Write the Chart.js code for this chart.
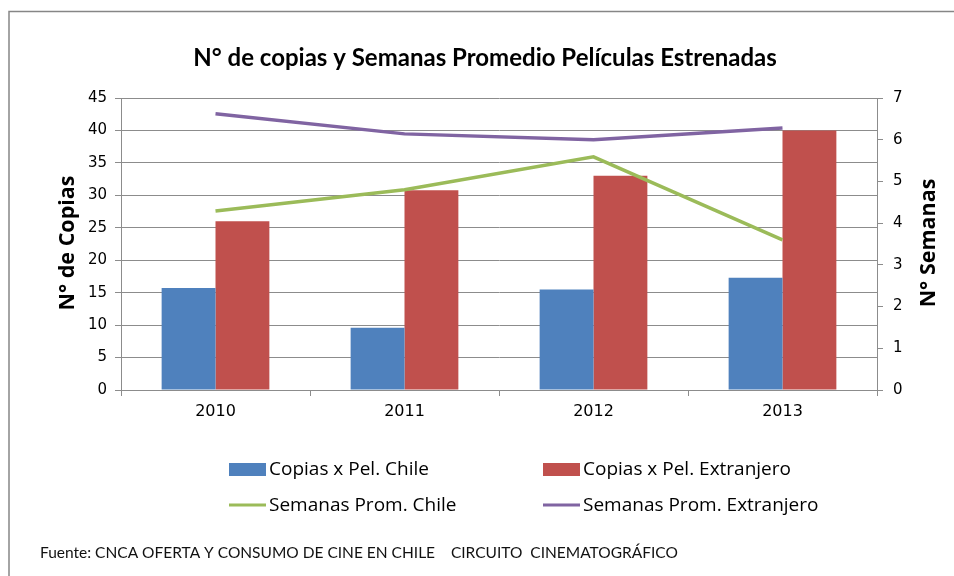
<!DOCTYPE html>
<html>
<head>
<meta charset="utf-8">
<script src="https://cdn.jsdelivr.net/npm/chart.js@4/dist/chart.umd.min.js"></script>
<style>
  html, body { margin: 0; padding: 0; background: #fff; }
  #wrap { width: 954px; height: 576px; position: relative; }
</style>
</head>
<body>
<div id="wrap"><canvas id="chart" width="954" height="576"></canvas></div>
<script>
// data
const years = ['2010', '2011', '2012', '2013'];
const copiasChile = [15.7, 9.6, 15.5, 17.3];
const copiasExtranjero = [26.0, 30.8, 33.0, 40.0];
const semanasChile = [4.29, 4.8, 5.59, 3.6];
const semanasExtranjero = [6.62, 6.14, 6.0, 6.28];

const seriesNames = ['Copias x Pel. Chile', 'Copias x Pel. Extranjero', 'Semanas Prom. Chile', 'Semanas Prom. Extranjero'];
const chartTitle = 'N° de copias y Semanas Promedio Películas Estrenadas';
const leftTitle = 'N° de Copias';
const rightTitle = 'N° Semanas';
const footerText = 'Fuente: CNCA OFERTA Y CONSUMO DE CINE EN CHILE    CIRCUITO  CINEMATOGRÁFICO';

const GRID = '#8c8c8c';

// frame, titles, legend and footer
const decorations = {
    id: 'decorations',
    beforeDraw(chart) {
        const ctx = chart.ctx;
        ctx.save();
        ctx.strokeStyle = '#868686';
        ctx.lineWidth = 1.5;
        ctx.beginPath();
        ctx.moveTo(9, 600);
        ctx.lineTo(9, 11.5);
        ctx.lineTo(960, 11.5);
        ctx.stroke();
        ctx.restore();
    },
    afterDraw(chart) {
        const ctx = chart.ctx;
        ctx.save();
        ctx.fillStyle = '#000';
        ctx.textBaseline = 'middle';

        ctx.font = 'bold 24px Lato';
        ctx.textAlign = 'center';
        ctx.fillText(chartTitle, 485, 58);

        // axis titles
        ctx.font = 'bold 21.5px "Open Sans"';
        ctx.save();
        ctx.translate(68, 243);
        ctx.rotate(-Math.PI / 2);
        ctx.fillText(leftTitle, 0, 0);
        ctx.restore();
        ctx.save();
        ctx.translate(929, 243);
        ctx.rotate(-Math.PI / 2);
        ctx.fillText(rightTitle, 0, 0);
        ctx.restore();

        // legend, 2 x 2
        const cols = [229, 543];
        const rows = [469, 505];
        ctx.font = '19px "Open Sans"';
        ctx.textAlign = 'left';
        chart.data.datasets.forEach((ds, i) => {
            const x = cols[i % 2];
            const y = rows[Math.floor(i / 2)];
            if (ds.type === 'line') {
                ctx.strokeStyle = ds.borderColor;
                ctx.lineWidth = 3;
                ctx.beginPath();
                ctx.moveTo(x, y);
                ctx.lineTo(x + 37, y);
                ctx.stroke();
            } else {
                ctx.fillStyle = ds.backgroundColor;
                ctx.fillRect(x, y - 6, 37, 13);
            }
            ctx.fillStyle = '#000';
            ctx.fillText(ds.label, x + 40, y + 1);
        });

        ctx.font = '15.5px Lato';
        ctx.fillStyle = '#111';
        ctx.fillText(footerText, 40, 553);
        ctx.restore();
    }
};

new Chart(document.getElementById('chart').getContext('2d'), {
    data: {
        labels: years,
        datasets: [
            { type: 'bar', label: seriesNames[0], data: copiasChile, backgroundColor: '#4F81BD', yAxisID: 'y', order: 2 },
            { type: 'bar', label: seriesNames[1], data: copiasExtranjero, backgroundColor: '#C0504D', yAxisID: 'y', order: 2 },
            { type: 'line', label: seriesNames[2], data: semanasChile, borderColor: '#9BBB59', backgroundColor: '#9BBB59',
              borderWidth: 3.5, pointRadius: 0, tension: 0, yAxisID: 'y1', order: 1 },
            { type: 'line', label: seriesNames[3], data: semanasExtranjero, borderColor: '#8064A2', backgroundColor: '#8064A2',
              borderWidth: 3.5, pointRadius: 0, tension: 0, yAxisID: 'y1', order: 1 }
        ]
    },
    options: {
        responsive: false,
        animation: false,
        devicePixelRatio: 1,
        layout: { padding: { left: 61, right: 27, top: 98, bottom: 146 } },
        datasets: { bar: { categoryPercentage: 0.57, barPercentage: 1 } },
        plugins: {
            legend: { display: false },
            tooltip: { enabled: false },
            title: { display: false }
        },
        scales: {
            x: {
                offset: true,
                afterFit: s => { s.height = 40; },
                grid: { offset: true, drawOnChartArea: false, color: GRID, tickLength: 6 },
                border: { color: GRID },
                ticks: { color: '#000', font: { family: 'DejaVu Sans', size: 16 }, padding: 6 }
            },
            y: {
                position: 'left',
                min: 0, max: 45,
                afterFit: s => { s.width = 60; },
                grid: { color: GRID, tickLength: 6 },
                border: { color: GRID },
                ticks: { stepSize: 5, color: '#000', font: { family: 'DejaVu Sans', size: 15 }, padding: 8 }
            },
            y1: {
                position: 'right',
                min: 0, max: 7,
                afterFit: s => { s.width = 50; },
                grid: { drawOnChartArea: false, color: GRID, tickLength: 6 },
                border: { color: GRID },
                ticks: { stepSize: 1, color: '#000', font: { family: 'DejaVu Sans', size: 15 }, padding: 10 }
            }
        }
    },
    plugins: [decorations]
});
</script>
</body>
</html>
